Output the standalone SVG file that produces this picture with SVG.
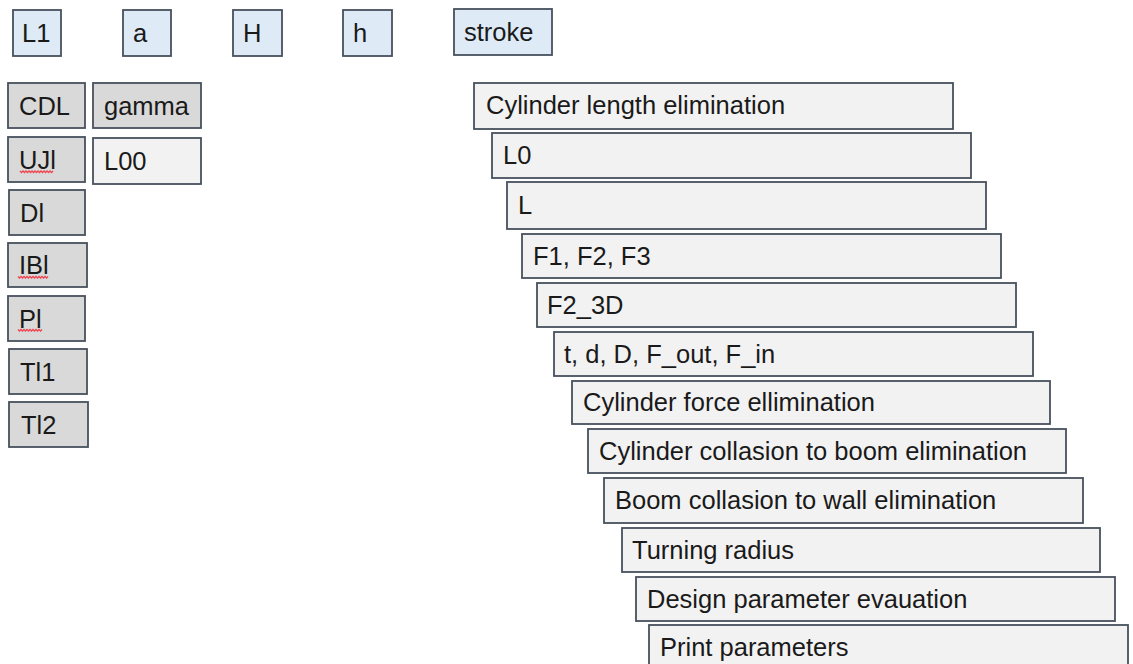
<svg xmlns="http://www.w3.org/2000/svg" width="1133" height="664" viewBox="0 0 1133 664">
  <style>
    .box { stroke: #47505c; stroke-width: 1.8; }
    .blue { fill: #deebf7; }
    .grey { fill: #d9d9d9; }
    .light { fill: #f2f2f2; }
    text { font-family: "Liberation Sans", Arial, sans-serif; font-size: 25.5px; fill: #1a1a1a; }
    .squiggle { fill: none; stroke: #f0444e; stroke-width: 1.3; }
  </style>

  <!-- top row of input parameters -->
  <g id="node-L1"><rect class="box blue" x="13" y="10" width="48" height="46"/><text x="22" y="42">L1</text></g>
  <g id="node-a"><rect class="box blue" x="123" y="10" width="48" height="46"/><text x="133" y="42">a</text></g>
  <g id="node-H"><rect class="box blue" x="233" y="10" width="49" height="46"/><text x="243" y="42">H</text></g>
  <g id="node-h"><rect class="box blue" x="343" y="10" width="49" height="46"/><text x="353" y="42">h</text></g>
  <g id="node-stroke"><rect class="box blue" x="454" y="9" width="98" height="46"/><text x="464" y="41">stroke</text></g>

  <!-- left column -->
  <g id="node-CDL"><rect class="box grey" x="8" y="83" width="77" height="45"/><text x="19" y="115">CDL</text></g>
  <g id="node-gamma"><rect class="box grey" x="93" y="83" width="108" height="45"/><text x="104" y="115">gamma</text></g>
  <g id="node-UJl"><rect class="box grey" x="8" y="137" width="77" height="45"/><text x="19" y="169">UJl</text>
    <path class="squiggle" d="M20,171 l1.5,1.5 l1.5,-1.5 l1.5,1.5 l1.5,-1.5 l1.5,1.5 l1.5,-1.5 l1.5,1.5 l1.5,-1.5 l1.5,1.5 l1.5,-1.5 l1.5,1.5 l1.5,-1.5 l1.5,1.5 l1.5,-1.5 l1.5,1.5 l1.5,-1.5 l1.5,1.5 l1.5,-1.5 l1.5,1.5 l1.5,-1.5 l1.5,1.5 l1.5,-1.5"/></g>
  <g id="node-L00"><rect class="box light" x="93" y="138" width="108" height="46"/><text x="104" y="170">L00</text></g>
  <g id="node-Dl"><rect class="box grey" x="9" y="190" width="76" height="45"/><text x="20" y="222">Dl</text></g>
  <g id="node-IBl"><rect class="box grey" x="8" y="243" width="79" height="44"/><text x="19" y="274">IBl</text>
    <path class="squiggle" d="M18,276.5 l1.5,1.5 l1.5,-1.5 l1.5,1.5 l1.5,-1.5 l1.5,1.5 l1.5,-1.5 l1.5,1.5 l1.5,-1.5 l1.5,1.5 l1.5,-1.5 l1.5,1.5 l1.5,-1.5 l1.5,1.5 l1.5,-1.5 l1.5,1.5 l1.5,-1.5 l1.5,1.5 l1.5,-1.5 l1.5,1.5 l1.5,-1.5"/></g>
  <g id="node-Pl"><rect class="box grey" x="8" y="296" width="77" height="45"/><text x="19" y="328">Pl</text>
    <path class="squiggle" d="M18,329.5 l1.5,1.5 l1.5,-1.5 l1.5,1.5 l1.5,-1.5 l1.5,1.5 l1.5,-1.5 l1.5,1.5 l1.5,-1.5 l1.5,1.5 l1.5,-1.5 l1.5,1.5 l1.5,-1.5 l1.5,1.5 l1.5,-1.5 l1.5,1.5 l1.5,-1.5"/></g>
  <g id="node-Tl1"><rect class="box grey" x="9" y="349" width="78" height="45"/><text x="20" y="381">Tl1</text></g>
  <g id="node-Tl2"><rect class="box grey" x="9" y="402" width="79" height="45"/><text x="21" y="434">Tl2</text></g>

  <!-- staircase of processing steps -->
  <g id="node-step1"><rect class="box light" x="474" y="83" width="479" height="46"/><text x="486" y="114">Cylinder length elimination</text></g>
  <g id="node-step2"><rect class="box light" x="492" y="133" width="479" height="45"/><text x="503" y="164">L0</text></g>
  <g id="node-step3"><rect class="box light" x="507" y="182" width="479" height="47"/><text x="518" y="214">L</text></g>
  <g id="node-step4"><rect class="box light" x="522" y="234" width="479" height="44"/><text x="533" y="265">F1, F2, F3</text></g>
  <g id="node-step5"><rect class="box light" x="537" y="283" width="479" height="44"/><text x="547" y="314">F2_3D</text></g>
  <g id="node-step6"><rect class="box light" x="554" y="332" width="479" height="44"/><text x="564" y="363">t, d, D, F_out, F_in</text></g>
  <g id="node-step7"><rect class="box light" x="572" y="381" width="478" height="43"/><text x="583" y="411">Cylinder force ellimination</text></g>
  <g id="node-step8"><rect class="box light" x="588" y="429" width="478" height="44"/><text x="599" y="460">Cylinder collasion to boom elimination</text></g>
  <g id="node-step9"><rect class="box light" x="604" y="478" width="479" height="45"/><text x="615" y="509">Boom collasion to wall elimination</text></g>
  <g id="node-step10"><rect class="box light" x="622" y="528" width="478" height="44"/><text x="632" y="559">Turning radius</text></g>
  <g id="node-step11"><rect class="box light" x="636" y="577" width="479" height="44"/><text x="647" y="608">Design parameter evauation</text></g>
  <g id="node-step12"><rect class="box light" x="649" y="625" width="479" height="44"/><text x="660" y="656">Print parameters</text></g>

  <!-- no connectors are drawn between the nodes -->
  <g id="connectors"/>
</svg>
